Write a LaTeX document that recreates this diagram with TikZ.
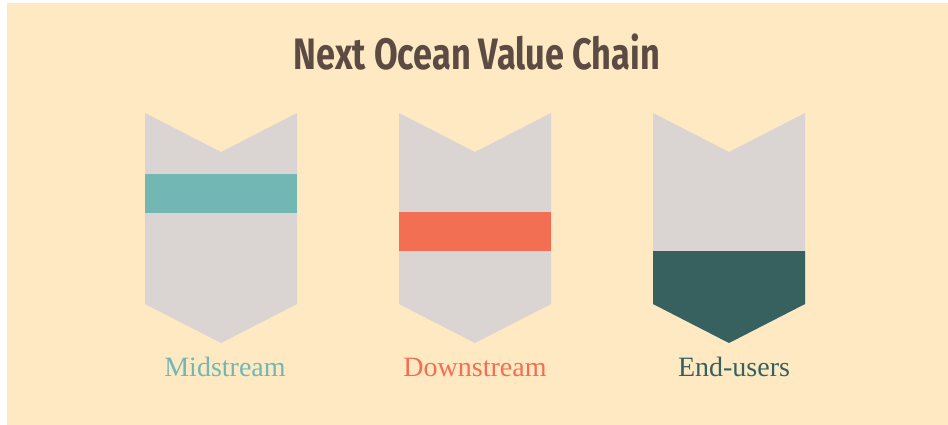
\documentclass[tikz,border=0pt]{standalone}
\usepackage{fontspec}
\setmainfont{Liberation Serif}
\newfontfamily\titlefont[FakeStretch=0.78]{Fira Sans}
\definecolor{bgc}{HTML}{FEE9C3}
\definecolor{greyc}{HTML}{DAD4D2}
\definecolor{tealc}{HTML}{72B7B3}
\definecolor{redc}{HTML}{F36F53}
\definecolor{darkc}{HTML}{37615E}
\definecolor{titlec}{HTML}{5B4B43}
\tikzset{
  shield/.style={fill=greyc},
  lbl/.style={anchor=base,inner sep=0pt,font=\fontsize{28}{30}\selectfont},
}
\begin{document}
\begin{tikzpicture}[x=1pt,y=-1pt]
\useasboundingbox (0,0) rectangle (948,425);
\fill[bgc] (7,3) rectangle (948,425);
\node[anchor=base,inner sep=0pt,text=titlec] (title) at (477,70)
  {\resizebox{366pt}{!}{\titlefont\bfseries\fontsize{40}{44}\selectfont Next Ocean Value Chain}};
% shield 1
\fill[shield] (145,113) -- (221,152) -- (297,113) -- (297,304) -- (221,343) -- (145,304) -- cycle;
\fill[tealc] (145,174) rectangle (297,213);
% shield 2
\fill[shield] (399,113) -- (475,152) -- (551,113) -- (551,304) -- (475,343) -- (399,304) -- cycle;
\fill[redc] (399,212) rectangle (551,251);
% shield 3
\fill[shield] (653,113) -- (729,152) -- (805,113) -- (805,304) -- (729,343) -- (653,304) -- cycle;
\fill[darkc] (653,251) -- (805,251) -- (805,304) -- (729,343) -- (653,304) -- cycle;
\node[lbl,text=tealc] (mid) at (225,376) {Midstream};
\node[lbl,text=redc] (down) at (475,376) {Downstream};
\node[lbl,text=darkc] (end) at (734,376) {End-users};
\end{tikzpicture}
\end{document}
